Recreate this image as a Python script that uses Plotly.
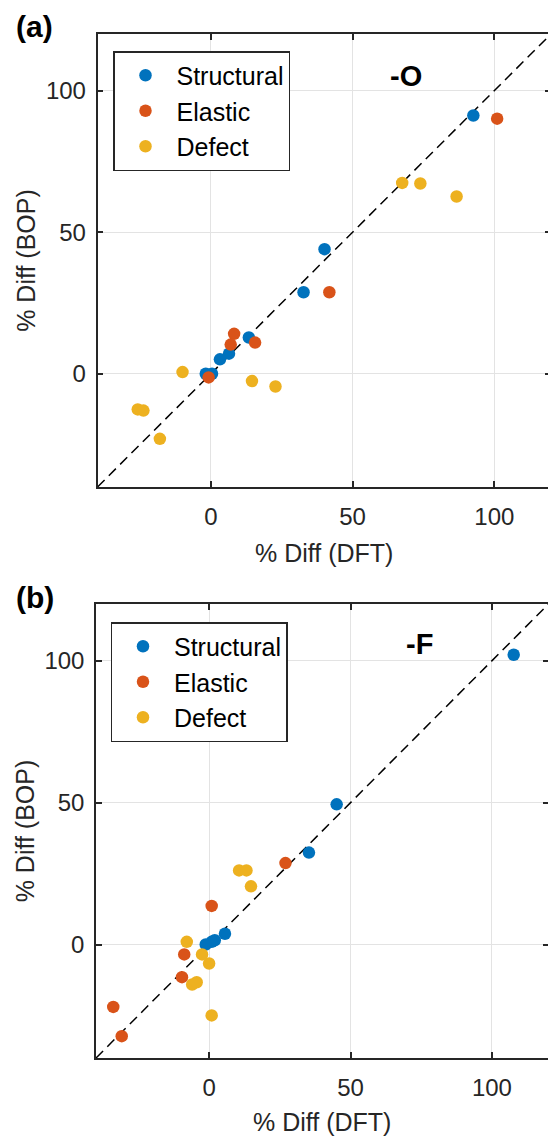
import plotly.graph_objects as go

# ---- Data: panel (a) "-O" ----
a_struct_x = [92.6, 40.1, 32.7, 13.4, 6.4, 3.2, -1.8, 0.4]
a_struct_y = [91.2, 44.0, 28.8, 12.8, 7.1, 5.1, 0.0, 0.0]
a_elast_x = [101.0, 41.8, 8.2, 7.0, 15.6, -0.8]
a_elast_y = [90.1, 28.8, 14.1, 10.3, 11.0, -1.3]
a_defect_x = [67.5, 73.9, 86.7, -10.0, -25.8, -23.8, -18.0, 14.5, 22.8]
a_defect_y = [67.4, 67.2, 62.6, 0.6, -12.6, -13.0, -23.0, -2.6, -4.5]

# ---- Data: panel (b) "-F" ----
b_struct_x = [107.7, 45.1, 35.3, 5.6, 2.0, 0.9, -1.2]
b_struct_y = [102.1, 49.4, 32.4, 3.8, 1.5, 0.95, 0.0]
b_elast_x = [27.0, 0.9, -8.8, -9.6, -33.9, -30.9]
b_elast_y = [28.7, 13.6, -3.5, -11.5, -22.0, -32.3]
b_defect_x = [10.6, 13.2, 14.8, -7.9, -2.5, 0.0, -6.0, -4.4, 0.9]
b_defect_y = [26.1, 26.1, 20.5, 0.95, -3.5, -6.7, -14.1, -13.3, -25.0]

diag = [-40, 120]
axis_range = [-40, 120]
tick_vals = [0, 50, 100]
tick_text = ["0", "50", "100"]
series_names = ["Structural", "Elastic", "Defect"]
colors = ["#0072BD", "#D95319", "#EDB120"]

FONT = "Arial, Liberation Sans, sans-serif"

fig = go.Figure()

panels = [
    ("x", "y", "legend", [(a_struct_x, a_struct_y), (a_elast_x, a_elast_y), (a_defect_x, a_defect_y)]),
    ("x2", "y2", "legend2", [(b_struct_x, b_struct_y), (b_elast_x, b_elast_y), (b_defect_x, b_defect_y)]),
]

for xa, ya, leg, data in panels:
    fig.add_trace(go.Scatter(x=diag, y=diag, mode="lines", xaxis=xa, yaxis=ya,
                             line=dict(color="black", dash="10px,6px", width=1.5),
                             showlegend=False, hoverinfo="skip"))
    for (xs, ys), name, c in zip(data, series_names, colors):
        fig.add_trace(go.Scatter(x=xs, y=ys, mode="markers", name=name,
                                 xaxis=xa, yaxis=ya, legend=leg,
                                 marker=dict(color=c, size=12.5, line=dict(width=0))))

# page body has an 8px margin; figure is laid out in reference-pixel coords shifted by it
OFF = 8
W, H = 548, 1128
def px_x(p):
    return (p - OFF) / W
def px_y(p):
    return 1 - (p - OFF) / H

axis_common = dict(
    range=axis_range, tickvals=tick_vals, ticktext=tick_text,
    showgrid=True, gridcolor="#e3e3e3", gridwidth=1,
    zeroline=False, showline=True, linecolor="#262626", linewidth=1.5,
    mirror="ticks", ticks="inside", ticklen=6, tickcolor="#262626", tickwidth=1.5,
    tickfont=dict(family=FONT, size=24, color="#262626"),
)

xt = dict(text="% Diff (DFT)", font=dict(size=25), standoff=16)
yt = dict(text="% Diff (BOP)", font=dict(size=25), standoff=3)

leg_common = dict(xanchor="left", yanchor="top",
                  bgcolor="white", bordercolor="#262626", borderwidth=1.5,
                  font=dict(family=FONT, size=25, color="black"), itemwidth=52)

fig.update_layout(
    width=W, height=H,
    margin=dict(l=0, r=0, t=0, b=0),
    paper_bgcolor="white", plot_bgcolor="white",
    font=dict(family=FONT, color="#262626"),
    xaxis=dict(axis_common, domain=[px_x(97.5), px_x(551)], anchor="y",
               title=xt, ticklabelstandoff=7),
    yaxis=dict(axis_common, domain=[px_y(487), px_y(34)], anchor="x",
               title=yt, ticklabelstandoff=5),
    xaxis2=dict(axis_common, domain=[px_x(96), px_x(548.5)], anchor="y2",
                title=xt, ticklabelstandoff=7),
    yaxis2=dict(axis_common, domain=[px_y(1058), px_y(604)], anchor="x2",
                title=yt, ticklabelstandoff=5),
    legend=dict(leg_common, x=px_x(113), y=px_y(51)),
    legend2=dict(leg_common, x=px_x(110.5), y=px_y(622)),
    annotations=[
        dict(text="<b>(a)</b>", xref="paper", yref="paper", x=px_x(14), y=px_y(27),
             xanchor="left", yanchor="middle", showarrow=False,
             font=dict(family=FONT, size=30, color="black")),
        dict(text="<b>(b)</b>", xref="paper", yref="paper", x=px_x(14), y=px_y(597),
             xanchor="left", yanchor="middle", showarrow=False,
             font=dict(family=FONT, size=30, color="black")),
        dict(text="<b>-O</b>", xref="x", yref="y", x=69, y=105,
             xanchor="center", yanchor="middle", showarrow=False,
             font=dict(family=FONT, size=29, color="black")),
        dict(text="<b>-F</b>", xref="x2", yref="y2", x=74.5, y=106,
             xanchor="center", yanchor="middle", showarrow=False,
             font=dict(family=FONT, size=29, color="black")),
    ],
)

fig.write_html("out.html")
